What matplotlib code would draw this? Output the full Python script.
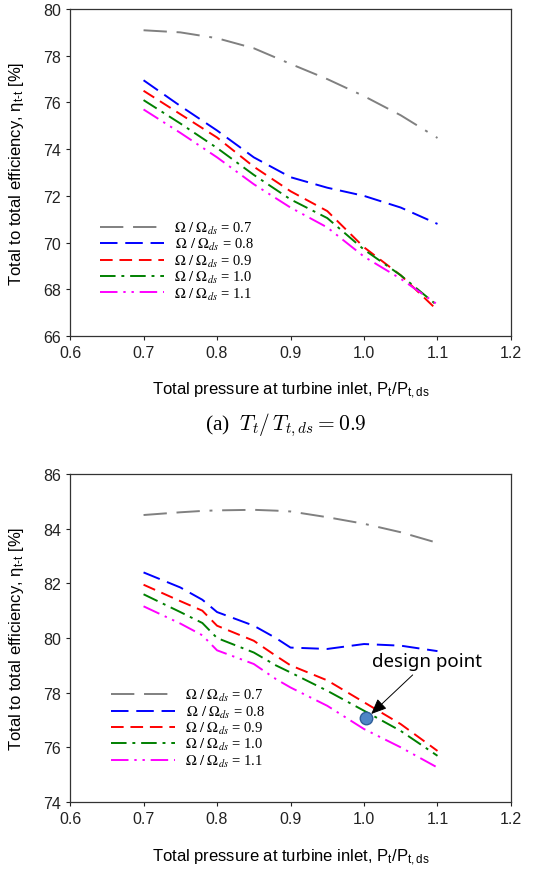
import numpy as np
import matplotlib
matplotlib.use("Agg")
import matplotlib.pyplot as plt
from matplotlib.font_manager import FontProperties

# === Data ===
# (a) T_t/T_t,ds = 0.9
x_a = [0.70, 0.75, 0.80, 0.85, 0.90, 0.95, 1.00, 1.05, 1.10]
eff_a_07 = [79.09, 79.00, 78.75, 78.32, 77.65, 77.00, 76.27, 75.45, 74.48]
eff_a_08 = [76.95, 75.85, 74.80, 73.65, 72.80, 72.35, 72.00, 71.50, 70.80]
eff_a_09 = [76.50, 75.50, 74.50, 73.25, 72.20, 71.35, 69.80, 68.60, 67.10]
eff_a_10 = [76.10, 75.10, 74.05, 72.90, 71.85, 71.05, 69.70, 68.60, 67.30]
eff_a_11 = [75.70, 74.70, 73.65, 72.50, 71.50, 70.65, 69.40, 68.45, 67.35]

# (b) design temperature
x_b = [0.70, 0.75, 0.78, 0.80, 0.85, 0.88, 0.90, 0.95, 1.00, 1.05, 1.10]
eff_b_07 = [84.50, 84.60, 84.65, 84.67, 84.69, 84.66, 84.63, 84.42, 84.18, 83.87, 83.48]
eff_b_08 = [82.40, 81.85, 81.40, 80.95, 80.45, 80.00, 79.65, 79.60, 79.78, 79.72, 79.52]
eff_b_09 = [81.95, 81.35, 81.00, 80.45, 79.90, 79.35, 79.00, 78.45, 77.65, 76.85, 75.87]
eff_b_10 = [81.60, 80.95, 80.55, 80.00, 79.47, 79.00, 78.74, 78.07, 77.34, 76.60, 75.69]
eff_b_11 = [81.16, 80.53, 80.10, 79.55, 79.05, 78.50, 78.19, 77.52, 76.67, 76.00, 75.26]

speed_labels = ["0.7", "0.8", "0.9", "1.0", "1.1"]
design_x, design_y = 1.003, 77.07

# === Styles ===
colors = ["#808080", "#0000ff", "#ff0000", "#008000", "#ff00ff"]
dashes = [
    (0, (12, 5, 12, 5, 1.5, 5)),
    (0, (9, 4)),
    (0, (6.5, 3.5)),
    (0, (8, 3, 1.5, 3)),
    (0, (9, 3, 1.2, 3, 1.2, 3)),
]

plt.rcParams["font.family"] = ["Liberation Sans", "DejaVu Sans"]
plt.rcParams["mathtext.fontset"] = "custom"
plt.rcParams["mathtext.rm"] = "Liberation Sans"
plt.rcParams["mathtext.it"] = "Liberation Sans:italic"

leg_font = FontProperties(family="Liberation Serif", size=10.5, math_fontfamily="stix")


def legend_label(s, lead=False):
    pad = r"\," if lead else ""
    return r"$" + pad + r"\Omega\ /\ \Omega_{ds}$ = " + s


def draw_panel(ax, x, series, ylim, yticks, leg_anchor):
    for i, (vals, lab) in enumerate(zip(series, speed_labels)):
        ax.plot(x, vals, color=colors[i], linestyle=dashes[i], lw=1.4,
                label=legend_label(lab, lead=(i == 1)))
    ax.set_xlim(0.6, 1.2)
    ax.set_ylim(*ylim)
    ax.set_xticks(np.arange(0.6, 1.21, 0.1))
    ax.set_xticklabels(["0.6", "0.7", "0.8", "0.9", "1.0", "1.1", "1.2"])
    ax.set_yticks(yticks)
    ax.tick_params(direction="out", length=3, width=0.8, labelsize=11.5,
                   top=False, right=False, colors="#222222")
    for sp in ax.spines.values():
        sp.set_linewidth(0.9)
        sp.set_color("#333333")
    ax.set_xlabel(r"Total pressure at turbine inlet, P$_\mathrm{t}$/P$_\mathrm{t,ds}$", fontsize=12)
    ax.set_ylabel(r"Total to total efficiency, η$_\mathrm{t\text{-}t}$ [%]", fontsize=12)
    ax.xaxis.set_label_coords(0.5, -0.135)
    ax.yaxis.set_label_coords(-0.100, 0.5)
    ax.legend(loc="upper left", bbox_to_anchor=leg_anchor, frameon=False,
              prop=leg_font, handlelength=4.4, handletextpad=0.7,
              labelspacing=0.02, borderaxespad=0, borderpad=0)


fig = plt.figure(figsize=(5.39, 8.70), dpi=100)
ax1 = fig.add_axes([0.130, 0.6126, 0.818, 0.3759])
ax2 = fig.add_axes([0.130, 0.077, 0.818, 0.377])

draw_panel(ax1, x_a, [eff_a_07, eff_a_08, eff_a_09, eff_a_10, eff_a_11],
           (66, 80), np.arange(66, 81, 2), (0.068, 0.355))
draw_panel(ax2, x_b, [eff_b_07, eff_b_08, eff_b_09, eff_b_10, eff_b_11],
           (74, 86), np.arange(74, 87, 2), (0.092, 0.35))

# design point
ax2.plot(design_x, design_y, "o", ms=9, mfc="#4f86c6", mec="#2f5f99", mew=1, zorder=5)
ax2.annotate("design point", xy=(design_x + 0.004, design_y + 0.08), xytext=(1.086, 79.15),
             ha="center", va="center", fontsize=13.5, family="Noto Sans",
             arrowprops=dict(arrowstyle="-|>,head_length=0.7,head_width=0.3",
                             color="black", lw=0.7, shrinkA=2, shrinkB=2))

# caption of panel (a)
fig.text(0.530, 1 - 425 / 870, r"(a)  $T_t/\,T_{t,ds}=0.9$", ha="center", va="center",
         fontsize=15.5, family="Liberation Serif", math_fontfamily="cm")

fig.savefig("out.png", dpi=100)
